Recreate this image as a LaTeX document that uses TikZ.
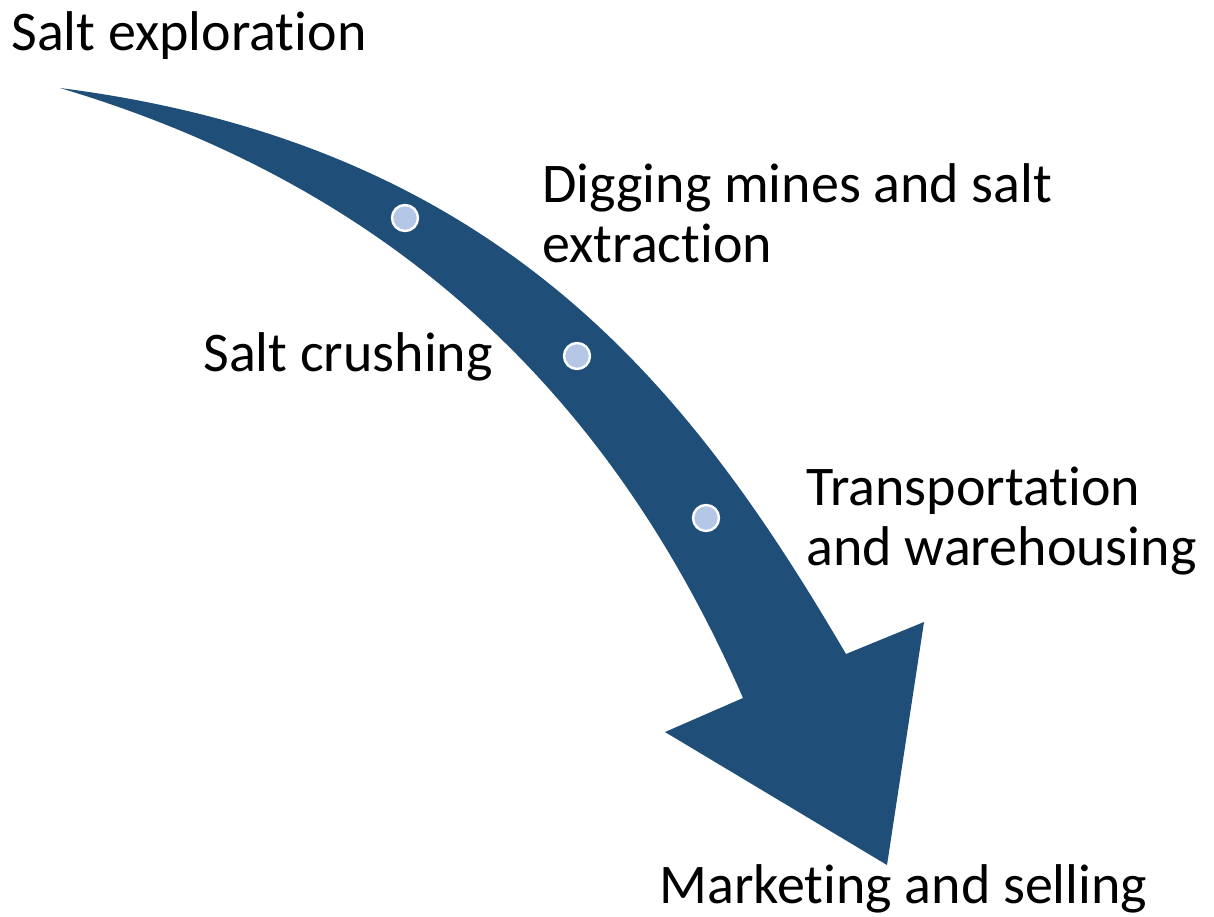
\documentclass[tikz,border=0pt]{standalone}
\usepackage{fontspec}
\setmainfont{Carlito}[Ligatures={NoCommon,NoContextual}]
\usetikzlibrary{positioning}
\definecolor{arrow body}{RGB}{31,78,121}
\definecolor{dot area}{RGB}{180,199,231}
\tikzset{
  bodyfill/.style={fill=arrow body},
  stepdot/.style={circle, fill=dot area, draw=white, line width=1.2pt,
    minimum size=13pt, inner sep=0pt},
  steplabel/.style={anchor=base west, inner sep=0pt,
    font=\fontsize{28pt}{30pt}\selectfont}
}

\begin{document}
\begin{tikzpicture}[x=0.5pt, y=-0.5pt]
    \useasboundingbox (0,0) rectangle (1214,916);
    % outer edge, head, then inner edge back to the tail
    \fill[bodyfill] (60,88) .. controls (506,145) and (694,395) .. (846,654)
      -- (924,622) -- (887,865) -- (665,732) -- (743,698)
      .. controls (611,395) and (395,188) .. cycle;
    \node[stepdot] (d1) at (405,218) {};
    \node[stepdot] (d2) at (577,356) {};
    \node[stepdot] (d3) at (706,518) {};
    \node[steplabel] (explore) at (11,50) {Salt exploration};
    \node[steplabel] (dig) at (542,202) {Digging mines and salt};
    \node[steplabel] (dig2) at ([yshift=-30pt]dig.base west) {extraction};
    \node[steplabel] (crush) at (203,371) {Salt crushing};
    \node[steplabel] (trans) at (806,505) {Transportation};
    \node[steplabel] (trans2) at ([yshift=-30pt]trans.base west) {and warehousing};
    \node[steplabel] (market) at (659,903) {Marketing and selling};
\end{tikzpicture}
\end{document}
